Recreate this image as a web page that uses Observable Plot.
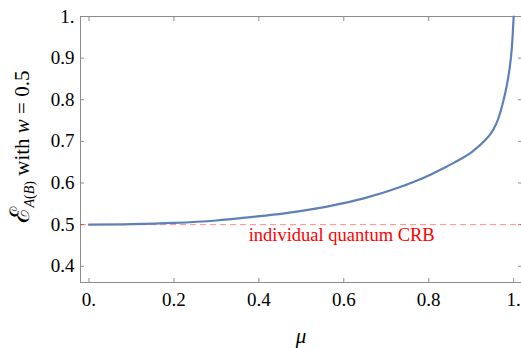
<!DOCTYPE html>
<html>
<head>
<meta charset="utf-8">
<script src="https://cdn.jsdelivr.net/npm/d3@7"></script>
<script src="https://cdn.jsdelivr.net/npm/@observablehq/plot@0.6"></script>
<style>
  html, body { margin: 0; padding: 0; background: #fff; }
  #chart svg { display: block; }
</style>
</head>
<body>
<div id="chart"></div>
<script>
// Curve: mu -> epsilon_A(B)
const mu  = [0, 0.1, 0.2, 0.3, 0.38, 0.46, 0.537, 0.569, 0.647, 0.726, 0.804, 0.83, 0.86, 0.902, 0.929, 0.952, 0.964, 0.974, 0.983, 0.9906, 0.9953, 0.9977, 1.0];
const eps = [0.5, 0.501, 0.504, 0.51, 0.518, 0.527, 0.539, 0.545, 0.563, 0.588, 0.620, 0.633, 0.649, 0.675, 0.699, 0.728, 0.755, 0.79, 0.83, 0.876, 0.92, 0.955, 1.0];

const crbLevel = [0.5];
const crbLabel = ["individual quantum CRB"];
const crbLabelX = [0.376];

const xTickValues = [0, 0.2, 0.4, 0.6, 0.8, 1.0];
const xTickLabels = ["0.", "0.2", "0.4", "0.6", "0.8", "1."];
const yTickValues = [0.4, 0.5, 0.6, 0.7, 0.8, 0.9, 1.0];
const yTickLabels = ["0.4", "0.5", "0.6", "0.7", "0.8", "0.9", "1."];

const curve = mu.map((m, i) => ({mu: m, eps: eps[i]}));
const serif = "Liberation Serif, Times New Roman, serif";
const frameColor = "#8c8c8c";

const chart = Plot.plot({
  width: 521,
  height: 348,
  marginLeft: 80,
  marginRight: 0,
  marginTop: 16,
  marginBottom: 66,
  style: {fontFamily: serif, fontSize: "19px", color: "#000", background: "#fff"},
  x: {domain: [-0.02, 1.0185]},
  y: {domain: [0.361, 1.0]},
  marks: [
    Plot.frame({stroke: frameColor, strokeWidth: 1}),
    Plot.axisX(xTickValues, {anchor: "bottom", tickSize: -4, tickPadding: 14, stroke: frameColor,
      tickFormat: (d) => xTickLabels[xTickValues.indexOf(d)], fill: "#000", label: null}),
    Plot.axisX(xTickValues, {anchor: "top", tickSize: -4, stroke: frameColor, tickFormat: () => "", label: null}),
    Plot.axisY(yTickValues, {anchor: "left", tickSize: -4, tickPadding: 10, stroke: frameColor,
      tickFormat: (d) => yTickLabels[yTickValues.indexOf(d)], fill: "#000", label: null}),
    Plot.axisY(yTickValues, {anchor: "right", tickSize: -4, stroke: frameColor, tickFormat: () => "", label: null}),
    Plot.ruleY(crbLevel, {stroke: "#ff0000", strokeOpacity: 0.45, strokeWidth: 1, strokeDasharray: "6,4"}),
    Plot.line(curve, {x: "mu", y: "eps", stroke: "#5e81b5", strokeWidth: 2.2, curve: "monotone-x"}),
    Plot.text(crbLabel, {x: crbLabelX, y: crbLevel, text: (d) => d, textAnchor: "start", lineAnchor: "top",
      dy: 3, fill: "#ff0000", fontSize: 18.5, fontFamily: serif}),
    Plot.text(["μ"], {frameAnchor: "bottom", text: (d) => d, dy: 46, lineAnchor: "top",
      fontStyle: "italic", fontSize: 21, fontFamily: serif, fill: "#000"})
  ]
});

// y-axis label with subscript, appended as real SVG text
const svg = d3.select(chart);
const yl = svg.append("text")
  .attr("transform", "translate(29,147) rotate(-90)")
  .attr("text-anchor", "middle")
  .attr("font-family", serif)
  .attr("font-size", 21)
  .attr("fill", "#000");
yl.append("tspan").attr("font-size", 27).text("ℰ");
yl.append("tspan").attr("font-size", 14).attr("dy", 5).attr("font-style", "italic").text("A");
yl.append("tspan").attr("font-size", 14).text("(");
yl.append("tspan").attr("font-size", 14).attr("font-style", "italic").text("B");
yl.append("tspan").attr("font-size", 14).text(")");
yl.append("tspan").attr("dy", -5).text(" with ");
yl.append("tspan").attr("font-style", "italic").text("w");
yl.append("tspan").text(" = 0.5");

document.getElementById("chart").appendChild(chart);
</script>
</body>
</html>
